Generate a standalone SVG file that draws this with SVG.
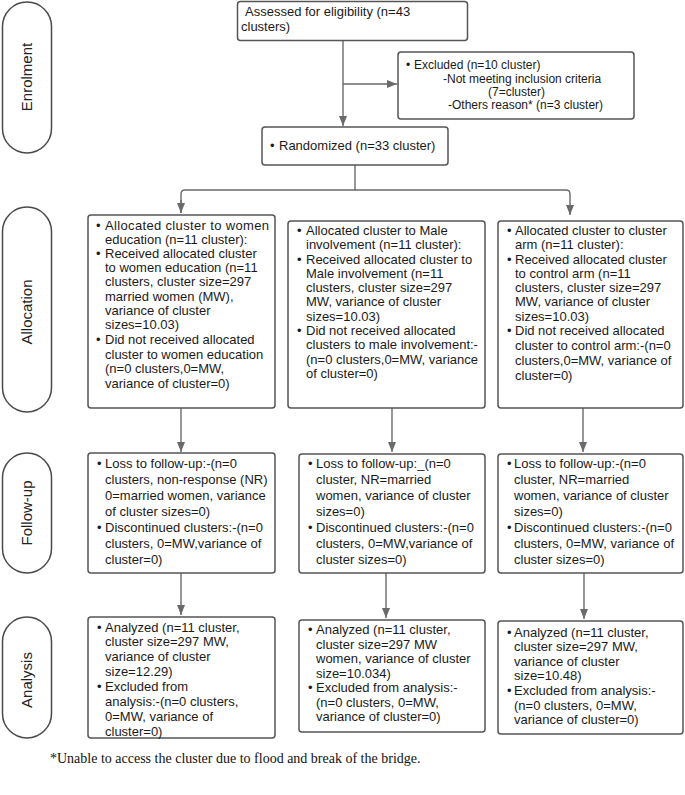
<svg xmlns="http://www.w3.org/2000/svg" width="685" height="795" viewBox="0 0 685 795">
<style>
.pill{fill:#fff;stroke:#4a4a4a;stroke-width:1.5}
.box{fill:#fff;stroke:#555;stroke-width:1.5}
.lbl{font-family:"Liberation Sans",Arial,sans-serif;font-size:15px;fill:#222;text-anchor:middle;dominant-baseline:central}
.t{font-family:"Liberation Sans",Arial,sans-serif;font-size:13px;fill:#1a1a1a}
.s{font-family:"Liberation Sans",Arial,sans-serif;font-size:12px;fill:#1a1a1a}
.c{fill:none;stroke:#6a6a6a;stroke-width:1.4}
.foot{font-family:"Liberation Serif","Times New Roman",serif;font-size:14px;fill:#111}
</style>
<defs>
<marker id="ah" markerUnits="userSpaceOnUse" markerWidth="11" markerHeight="9" refX="10" refY="4" orient="auto">
<path d="M0,0 L10,4 L0,8 z" fill="#6a6a6a"/>
</marker>
</defs>

<g id="stages">
<g id="stage-enrolment"><rect class="pill" x="2.5" y="2" width="49" height="151" rx="24.5"/><text class="lbl" transform="translate(26,77) rotate(-90)">Enrolment</text></g>
<g id="stage-allocation"><rect class="pill" x="2.5" y="207" width="49" height="205" rx="24.5"/><text class="lbl" transform="translate(26,312) rotate(-90)">Allocation</text></g>
<g id="stage-followup"><rect class="pill" x="2.5" y="453" width="49" height="120" rx="24.5"/><text class="lbl" transform="translate(26,513) rotate(-90)">Follow-up</text></g>
<g id="stage-analysis"><rect class="pill" x="2.5" y="617" width="49" height="121" rx="24.5"/><text class="lbl" transform="translate(26,680) rotate(-90)">Analysis</text></g>
</g>

<g id="connectors">
<path class="c" d="M343,41 V126" marker-end="url(#ah)"/>
<path class="c" d="M343,84 H397" marker-end="url(#ah)"/>
<path class="c" d="M355,165 V190"/>
<path class="c" d="M181,213 V194 Q181,190 185,190 H566 Q570,190 570,194 V215" marker-end="url(#ah)"/>
<path class="c" d="M181,200 V213" marker-end="url(#ah)"/>
<path class="c" d="M181,408 V452" marker-end="url(#ah)"/>
<path class="c" d="M392,408 V452" marker-end="url(#ah)"/>
<path class="c" d="M583,408 V452" marker-end="url(#ah)"/>
<path class="c" d="M181,573 V615" marker-end="url(#ah)"/>
<path class="c" d="M386,573 V618" marker-end="url(#ah)"/>
<path class="c" d="M584,573 V619" marker-end="url(#ah)"/>
</g>

<g id="assessed">
<rect class="box" x="237.5" y="1.5" width="230" height="39" rx="3"/>
<text class="t"><tspan x="245" y="15.5">Assessed for eligibility (n=43</tspan><tspan x="241" y="31">clusters)</tspan></text>
</g>

<g id="excluded">
<rect class="box" x="398" y="52" width="236" height="67" rx="3"/>
<text class="s"><tspan x="406" y="69">•</tspan><tspan x="414" y="69">Excluded (n=10 cluster)</tspan><tspan x="443" y="82.5">-Not meeting inclusion criteria</tspan><tspan x="488" y="96">(7=cluster)</tspan><tspan x="448" y="109">-Others reason* (n=3 cluster)</tspan></text>
</g>

<g id="randomized">
<rect class="box" x="262" y="127" width="186" height="38" rx="3"/>
<text class="t"><tspan x="270" y="150">•</tspan><tspan x="279" y="150">Randomized (n=33 cluster)</tspan></text>
</g>

<g id="alloc-women">
<rect class="box" x="88" y="215" width="187" height="193" rx="3"/>
<text class="t">
<tspan x="96" y="229.5">•</tspan><tspan x="105" y="229.5" textLength="164" lengthAdjust="spacing">Allocated cluster to women</tspan>
<tspan x="105" y="243.8">education (n=11 cluster):</tspan>
<tspan x="96" y="257.8">•</tspan><tspan x="105" y="257.8">Received allocated cluster</tspan>
<tspan x="105" y="271.8">to women education (n=11</tspan>
<tspan x="105" y="286.2">clusters, cluster size=297</tspan>
<tspan x="105" y="300.5">married women (MW),</tspan>
<tspan x="105" y="314.5">variance of cluster</tspan>
<tspan x="105" y="328.5">sizes=10.03)</tspan>
<tspan x="96" y="343.8">•</tspan><tspan x="105" y="343.8">Did not received allocated</tspan>
<tspan x="105" y="358.5">cluster to women education</tspan>
<tspan x="105" y="372.8">(n=0 clusters,0=MW,</tspan>
<tspan x="105" y="387.8">variance of cluster=0)</tspan>
</text>
</g>

<g id="alloc-male">
<rect class="box" x="288" y="221" width="197" height="187" rx="3"/>
<text class="t">
<tspan x="297" y="234.5">•</tspan><tspan x="306" y="234.5">Allocated cluster to Male</tspan>
<tspan x="306" y="248.5">involvement (n=11 cluster):</tspan>
<tspan x="297" y="263.5">•</tspan><tspan x="306" y="263.5">Received allocated cluster to</tspan>
<tspan x="306" y="278">Male involvement (n=11</tspan>
<tspan x="306" y="292">clusters, cluster size=297</tspan>
<tspan x="306" y="306">MW, variance of cluster</tspan>
<tspan x="306" y="320.5">sizes=10.03)</tspan>
<tspan x="297" y="334.5">•</tspan><tspan x="306" y="334.5">Did not received allocated</tspan>
<tspan x="306" y="349">clusters to male involvement:-</tspan>
<tspan x="306" y="363.5">(n=0 clusters,0=MW, variance</tspan>
<tspan x="306" y="378">of cluster=0)</tspan>
</text>
</g>

<g id="alloc-control">
<rect class="box" x="498" y="221" width="185" height="187" rx="3"/>
<text class="t">
<tspan x="507" y="235">•</tspan><tspan x="515" y="235">Allocated cluster to cluster</tspan>
<tspan x="515" y="248.5">arm (n=11 cluster):</tspan>
<tspan x="507" y="263.5">•</tspan><tspan x="515" y="263.5">Received allocated cluster</tspan>
<tspan x="515" y="278">to control arm (n=11</tspan>
<tspan x="515" y="292">clusters, cluster size=297</tspan>
<tspan x="515" y="306">MW, variance of cluster</tspan>
<tspan x="515" y="320.5">sizes=10.03)</tspan>
<tspan x="507" y="335">•</tspan><tspan x="515" y="335">Did not received allocated</tspan>
<tspan x="515" y="350">cluster to control arm:-(n=0</tspan>
<tspan x="515" y="364.5">clusters,0=MW, variance of</tspan>
<tspan x="515" y="379.5">cluster=0)</tspan>
</text>
</g>

<g id="followup-women">
<rect class="box" x="88" y="453" width="187" height="120" rx="3"/>
<text class="t">
<tspan x="97" y="468">•</tspan><tspan x="105" y="468">Loss to follow-up:-(n=0</tspan>
<tspan x="105" y="484">clusters, non-response (NR)</tspan>
<tspan x="105" y="500">0=married women, variance</tspan>
<tspan x="105" y="516">of cluster sizes=0)</tspan>
<tspan x="97" y="532">•</tspan><tspan x="105" y="532">Discontinued clusters:-(n=0</tspan>
<tspan x="105" y="548">clusters, 0=MW,variance of</tspan>
<tspan x="105" y="564">cluster=0)</tspan>
</text>
</g>

<g id="followup-male">
<rect class="box" x="299" y="454" width="186" height="119" rx="3"/>
<text class="t">
<tspan x="308" y="468">•</tspan><tspan x="316" y="468">Loss to follow-up:_(n=0</tspan>
<tspan x="316" y="484">cluster, NR=married</tspan>
<tspan x="316" y="500">women, variance of cluster</tspan>
<tspan x="316" y="516">sizes=0)</tspan>
<tspan x="308" y="532">•</tspan><tspan x="316" y="532">Discontinued clusters:-(n=0</tspan>
<tspan x="316" y="548">clusters, 0=MW,variance of</tspan>
<tspan x="316" y="564">cluster sizes=0)</tspan>
</text>
</g>

<g id="followup-control">
<rect class="box" x="498" y="454" width="185" height="119" rx="3"/>
<text class="t">
<tspan x="507" y="468">•</tspan><tspan x="514" y="468">Loss to follow-up:-(n=0</tspan>
<tspan x="514" y="484">cluster, NR=married</tspan>
<tspan x="514" y="500">women, variance of cluster</tspan>
<tspan x="514" y="516">sizes=0)</tspan>
<tspan x="507" y="532">•</tspan><tspan x="514" y="532">Discontinued clusters:-(n=0</tspan>
<tspan x="514" y="548">clusters, 0=MW, variance of</tspan>
<tspan x="514" y="564">cluster sizes=0)</tspan>
</text>
</g>

<g id="analysis-women">
<rect class="box" x="88" y="617" width="187" height="121" rx="3"/>
<text class="t">
<tspan x="97" y="631.5">•</tspan><tspan x="105" y="631.5">Analyzed (n=11 cluster,</tspan>
<tspan x="105" y="646.4">cluster size=297 MW,</tspan>
<tspan x="105" y="661.3">variance of cluster</tspan>
<tspan x="105" y="676.2">size=12.29)</tspan>
<tspan x="97" y="691.1">•</tspan><tspan x="105" y="691.1">Excluded from</tspan>
<tspan x="105" y="706">analysis:-(n=0 clusters,</tspan>
<tspan x="105" y="720.9">0=MW, variance of</tspan>
<tspan x="105" y="735.8">cluster=0)</tspan>
</text>
</g>

<g id="analysis-male">
<rect class="box" x="299" y="620" width="186" height="112" rx="3"/>
<text class="t">
<tspan x="308" y="633.8">•</tspan><tspan x="316" y="633.8">Analyzed (n=11 cluster,</tspan>
<tspan x="316" y="648.5">cluster size=297 MW</tspan>
<tspan x="316" y="663">women, variance of cluster</tspan>
<tspan x="316" y="677.5">size=10.034)</tspan>
<tspan x="308" y="692">•</tspan><tspan x="316" y="692">Excluded from analysis:-</tspan>
<tspan x="316" y="706.5">(n=0 clusters, 0=MW,</tspan>
<tspan x="316" y="721.2">variance of cluster=0)</tspan>
</text>
</g>

<g id="analysis-control">
<rect class="box" x="498" y="621" width="185" height="113" rx="3"/>
<text class="t">
<tspan x="507" y="636.5">•</tspan><tspan x="514" y="636.5">Analyzed (n=11 cluster,</tspan>
<tspan x="514" y="651.1">cluster size=297 MW,</tspan>
<tspan x="514" y="665.7">variance of cluster</tspan>
<tspan x="514" y="680.3">size=10.48)</tspan>
<tspan x="507" y="694.9">•</tspan><tspan x="514" y="694.9">Excluded from analysis:-</tspan>
<tspan x="514" y="709.5">(n=0 clusters, 0=MW,</tspan>
<tspan x="514" y="724.1">variance of cluster=0)</tspan>
</text>
</g>

<text class="foot" x="50" y="763">*Unable to access the cluster due to flood and break of the bridge.</text>
</svg>
